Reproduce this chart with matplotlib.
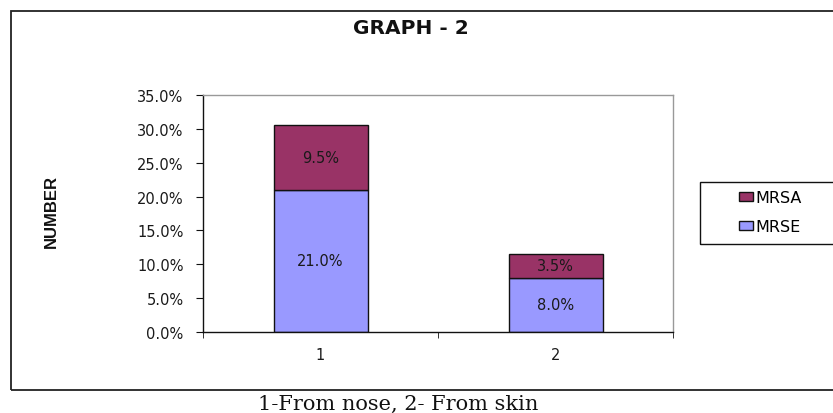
import matplotlib
matplotlib.use("Agg")
import matplotlib.pyplot as plt
from matplotlib.patches import Rectangle

categories = ["1", "2"]
mrse = [21.0, 8.0]
mrsa = [9.5, 3.5]
yticks = [0, 5, 10, 15, 20, 25, 30, 35]

C_MRSE = "#9999FF"
C_MRSA = "#993366"
INK = "#1a1a1a"

plt.rcParams["font.family"] = ["DejaVu Sans"]

fig = plt.figure(figsize=(8.33, 4.14), dpi=100)

# outer chart frame
fig.patches.append(Rectangle((11 / 833, 1 - 391 / 414), 1.0, (391 - 12) / 414,
                             transform=fig.transFigure, fill=False,
                             edgecolor="#222222", linewidth=1.3, zorder=0))

ax = fig.add_axes([203 / 833, 1 - 333 / 414, 470 / 833, 237 / 414])
x = list(range(len(categories)))
b1 = ax.bar(x, mrse, width=0.4, color=C_MRSE, edgecolor="#111111", linewidth=1.0, label="MRSE")
b2 = ax.bar(x, mrsa, width=0.4, bottom=mrse, color=C_MRSA, edgecolor="#111111", linewidth=1.0, label="MRSA")

for xi, v in zip(x, mrse):
    ax.text(xi, v / 2, f"{v:.1f}%", ha="center", va="center", fontsize=10.5, color=INK)
for xi, base, v in zip(x, mrse, mrsa):
    ax.text(xi, base + v / 2, f"{v:.1f}%", ha="center", va="center", fontsize=10.5, color=INK)

ax.set_xlim(-0.5, 1.5)
ax.set_ylim(0, 35)
ax.set_yticks(yticks)
ax.set_yticklabels([f"{t:.1f}%" for t in yticks], fontsize=10.5, color=INK)
ax.set_xticks(x)
ax.set_xticklabels(categories, fontsize=10.5, color=INK)
ax.tick_params(axis="x", length=0, pad=11)
ax.set_xticks([-0.5, 0.5, 1.5], minor=True)
ax.tick_params(axis="x", which="minor", length=4, direction="out", color="#111111")
ax.tick_params(axis="y", length=5, direction="out", color="#111111", pad=9)
for s in ["left", "bottom"]:
    ax.spines[s].set_color("#111111")
    ax.spines[s].set_linewidth(1.0)
for s in ["top", "right"]:
    ax.spines[s].set_color("#999999")
    ax.spines[s].set_linewidth(1.0)

fig.text(411 / 833, 1 - 29 / 414, "GRAPH - 2", ha="center", va="center",
         fontsize=14.5, fontweight="bold", color="#111111")
fig.text(51 / 833, 1 - 211 / 414, "NUMBER", ha="center", va="center", rotation=90,
         fontsize=12, fontweight="bold", family=["Liberation Sans", "DejaVu Sans"],
         color="#111111")
fig.text(398 / 833, 1 - 404 / 414, "1-From nose, 2- From skin", ha="center", va="center",
         fontsize=15, family=["DejaVu Serif"], color="#111111")

# legend box
fig.patches.append(Rectangle((700 / 833, 1 - 245 / 414), 0.5, 62 / 414,
                             transform=fig.transFigure, fill=False,
                             edgecolor="#111111", linewidth=1.0, zorder=3))
leg = fig.legend([b2, b1], ["MRSA", "MRSE"], loc="center left",
                 bbox_to_anchor=(731 / 833, 1 - 213 / 414), frameon=False,
                 fontsize=11.5, handlelength=0.9, handleheight=0.5,
                 handletextpad=0.1, labelspacing=0.9, borderpad=0)

fig.savefig("out.png", dpi=100)
